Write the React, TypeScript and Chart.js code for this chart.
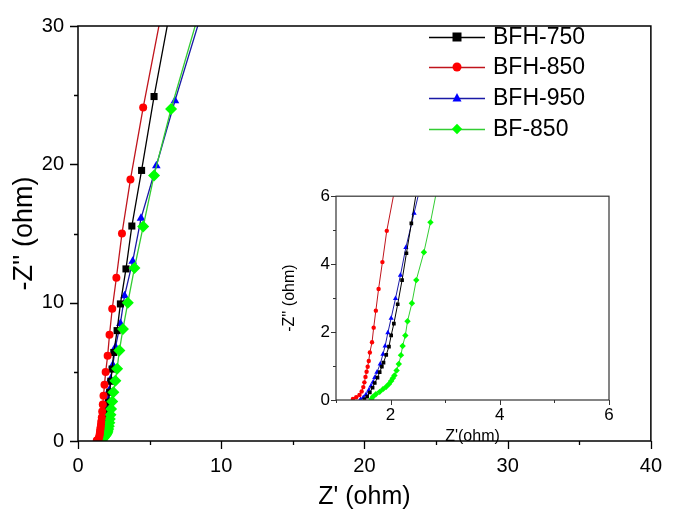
import React, { useEffect, useRef } from "react";
import { Chart, registerables } from "chart.js";

Chart.register(...registerables);

// ---- data ----
const seriesLabels = ["BFH-750", "BFH-850", "BFH-950", "BF-850"];
const lineColors = ["#000000", "#c0141c", "#1a1aa6", "#33cc33"];
const markerColors = ["#000000", "#ff0000", "#0000ff", "#00ff00"];
const markerStyles = ["rect", "circle", "triangle", "rectRot"];

const bfh750Re = [1.52, 1.57, 1.62, 1.67, 1.71, 1.76, 1.8, 1.84, 1.87, 1.92, 1.97, 2.01, 2.06, 2.13, 2.21, 2.29, 2.38, 2.5, 2.73, 2.96, 3.35, 3.76, 4.44, 5.31, 6.5];
const bfh750Im = [0.02, 0.1, 0.22, 0.36, 0.5, 0.66, 0.82, 0.98, 1.1, 1.33, 1.57, 1.9, 2.25, 2.82, 3.53, 4.32, 5.2, 6.4, 7.98, 9.91, 12.44, 15.54, 19.56, 24.9, 31.5];

const bfh850Re = [1.31, 1.37, 1.43, 1.47, 1.5, 1.52, 1.54, 1.56, 1.58, 1.6, 1.62, 1.66, 1.69, 1.73, 1.78, 1.85, 1.93, 2.07, 2.2, 2.39, 2.68, 3.07, 3.66, 4.55, 5.93];
const bfh850Im = [0.03, 0.08, 0.15, 0.25, 0.38, 0.52, 0.68, 0.83, 0.98, 1.15, 1.4, 1.7, 2.13, 2.63, 3.27, 4.06, 4.98, 6.16, 7.68, 9.56, 11.8, 15.0, 18.9, 24.1, 31.5];

const bfh950Re = [1.45, 1.5, 1.55, 1.6, 1.64, 1.68, 1.71, 1.75, 1.81, 1.86, 1.9, 1.95, 2.01, 2.09, 2.18, 2.28, 2.43, 2.62, 2.96, 3.25, 3.82, 4.4, 5.47, 6.77, 8.8];
const bfh950Im = [0.02, 0.07, 0.16, 0.29, 0.41, 0.53, 0.66, 0.82, 1.06, 1.35, 1.59, 1.98, 2.41, 2.99, 3.67, 4.49, 5.5, 6.8, 8.5, 10.5, 13.0, 16.1, 19.9, 24.6, 31.5];

const bf850Re = [1.65, 1.68, 1.73, 1.8, 1.86, 1.92, 1.97, 2.01, 2.04, 2.07, 2.11, 2.15, 2.19, 2.22, 2.27, 2.31, 2.39, 2.47, 2.61, 2.73, 2.89, 3.14, 3.48, 3.94, 4.55, 5.31, 6.5, 8.6];
const bf850Im = [0.03, 0.1, 0.17, 0.24, 0.32, 0.39, 0.47, 0.56, 0.64, 0.72, 0.87, 1.06, 1.32, 1.59, 1.9, 2.32, 2.85, 3.53, 4.35, 5.23, 6.54, 8.1, 10.0, 12.5, 15.5, 19.2, 24.0, 31.5];

const seriesRe = [bfh750Re, bfh850Re, bfh950Re, bf850Re];
const seriesIm = [bfh750Im, bfh850Im, bfh950Im, bf850Im];
const drawOrder = [2, 0, 3, 1];

const mainXMajor = [0, 10, 20, 30, 40];
const mainXMinor = [5, 15, 25, 35];
const mainYMajor = [0, 10, 20, 30];
const mainYMinor = [5, 15, 25];
const insetXMajor = [2, 4, 6];
const insetXMinor = [1, 3, 5];
const insetYMajor = [0, 2, 4, 6];
const insetYMinor = [1, 3, 5];

const FONT = "'Liberation Sans', Arial, sans-serif";

const frameTicksPlugin = {
  id: "frameTicks",
  afterDatasetsDraw(chart: any, _args: any, opts: any) {
    const { ctx, chartArea: a, scales } = chart;
    const sx = scales.x;
    const sy = scales.y;
    ctx.save();
    ctx.strokeStyle = opts.color || "#000";
    ctx.lineWidth = opts.lineWidth;
    ctx.strokeRect(a.left, a.top, a.right - a.left, a.bottom - a.top);
    ctx.beginPath();
    const tick = (vals: number[], len: number, horiz: boolean) => {
      for (const v of vals) {
        if (horiz) {
          const px = Math.round(sx.getPixelForValue(v)) + 0.5;
          ctx.moveTo(px, a.bottom);
          ctx.lineTo(px, a.bottom + len);
        } else {
          const py = Math.round(sy.getPixelForValue(v)) + 0.5;
          ctx.moveTo(a.left, py);
          ctx.lineTo(a.left - len, py);
        }
      }
    };
    tick(opts.xMajor, opts.majorLen, true);
    tick(opts.xMinor, opts.minorLen, true);
    tick(opts.yMajor, opts.majorLen, false);
    tick(opts.yMinor, opts.minorLen, false);
    ctx.lineWidth = opts.tickWidth;
    ctx.stroke();
    ctx.restore();
  },
};

function drawMarker(ctx: CanvasRenderingContext2D, style: string, x: number, y: number, r: number) {
  ctx.beginPath();
  if (style === "rect") {
    ctx.rect(x - r, y - r, 2 * r, 2 * r);
  } else if (style === "circle") {
    ctx.arc(x, y, r, 0, Math.PI * 2);
  } else if (style === "triangle") {
    ctx.moveTo(x, y - r * 1.1);
    ctx.lineTo(x + r, y + r * 0.75);
    ctx.lineTo(x - r, y + r * 0.75);
    ctx.closePath();
  } else {
    ctx.moveTo(x, y - r * 1.15);
    ctx.lineTo(x + r * 1.15, y);
    ctx.lineTo(x, y + r * 1.15);
    ctx.lineTo(x - r * 1.15, y);
    ctx.closePath();
  }
  ctx.fill();
}

const legendPlugin = {
  id: "lineLegend",
  afterDraw(chart: any) {
    const ctx = chart.ctx as CanvasRenderingContext2D;
    const x0 = 429;
    const x1 = 485;
    const xm = 457;
    const tx = 493;
    const rows = [37, 67, 98, 129];
    ctx.save();
    seriesLabels.forEach((lab, i) => {
      const y = rows[i];
      ctx.strokeStyle = lineColors[i];
      ctx.lineWidth = 1.5;
      ctx.beginPath();
      ctx.moveTo(x0, y + 0.5);
      ctx.lineTo(x1, y + 0.5);
      ctx.stroke();
      ctx.fillStyle = markerColors[i];
      drawMarker(ctx, markerStyles[i], xm, y, 4.5);
      ctx.fillStyle = "#000";
      ctx.font = `23px ${FONT}`;
      ctx.textBaseline = "middle";
      ctx.textAlign = "left";
      ctx.fillText(lab, tx, y + 1);
    });
    ctx.restore();
  },
};

function buildDatasets(radii: number[], lineWidth: number) {
  return seriesLabels.map((label, i) => ({
    label,
    data: seriesRe[i].map((x, k) => ({ x, y: seriesIm[i][k] })),
    borderColor: lineColors[i],
    backgroundColor: markerColors[i],
    pointBackgroundColor: markerColors[i],
    pointBorderColor: markerColors[i],
    pointBorderWidth: 0,
    pointStyle: markerStyles[i],
    pointRadius: radii[i],
    borderWidth: lineWidth,
    showLine: true,
    tension: 0,
    order: drawOrder[i],
  }));
}

export default function App() {
  const mainRef = useRef<HTMLCanvasElement | null>(null);
  const insetRef = useRef<HTMLCanvasElement | null>(null);

  useEffect(() => {
    document.body.style.margin = "0";
    const mainChart = new Chart(mainRef.current as HTMLCanvasElement, {
      type: "scatter",
      data: { datasets: buildDatasets([5, 4, 5, 6], 1.3) as any },
      plugins: [frameTicksPlugin, legendPlugin],
      options: {
        responsive: false,
        animation: false,
        layout: { padding: { top: 12, right: 13, left: 0, bottom: 0 } },
        plugins: {
          legend: { display: false },
          tooltip: { enabled: false },
          frameTicks: {
            lineWidth: 1.5,
            tickWidth: 1.3,
            majorLen: 8,
            minorLen: 4,
            xMajor: mainXMajor,
            xMinor: mainXMinor,
            yMajor: mainYMajor,
            yMinor: mainYMinor,
          },
        } as any,
        scales: {
          x: {
            type: "linear",
            min: 0,
            max: 40,
            grid: { display: false, drawTicks: false },
            border: { display: false },
            afterBuildTicks: (s: any) => {
              s.ticks = mainXMajor.map((v) => ({ value: v }));
            },
            afterFit: (s: any) => {
              s.height = 79;
            },
            ticks: { color: "#000", padding: 13, font: { family: FONT, size: 20 }, maxRotation: 0 },
            title: {
              display: true,
              text: "Z' (ohm)",
              color: "#000",
              font: { family: FONT, size: 25 },
              padding: { top: 0, bottom: 8 },
            },
          },
          y: {
            type: "linear",
            min: 0,
            max: 30,
            grid: { display: false, drawTicks: false },
            border: { display: false },
            afterBuildTicks: (s: any) => {
              s.ticks = mainYMajor.map((v) => ({ value: v }));
            },
            afterFit: (s: any) => {
              s.width = 78;
            },
            ticks: { color: "#000", padding: 14, font: { family: FONT, size: 20 } },
            title: {
              display: true,
              text: "-Z'' (ohm)",
              color: "#000",
              font: { family: FONT, size: 27 },
              padding: { top: 8, bottom: 0 },
            },
          },
        },
      } as any,
    });

    const insetChart = new Chart(insetRef.current as HTMLCanvasElement, {
      type: "scatter",
      data: { datasets: buildDatasets([2.6, 2.2, 3, 3.2], 1) as any },
      plugins: [frameTicksPlugin],
      options: {
        responsive: false,
        animation: false,
        layout: { padding: { top: 13, right: 11, left: 0, bottom: 0 } },
        plugins: {
          legend: { display: false },
          tooltip: { enabled: false },
          frameTicks: {
            lineWidth: 1.2,
            tickWidth: 1,
            color: "#333",
            majorLen: 5,
            minorLen: 3,
            xMajor: insetXMajor,
            xMinor: insetXMinor,
            yMajor: insetYMajor,
            yMinor: insetYMinor,
          },
        } as any,
        scales: {
          x: {
            type: "linear",
            min: 1,
            max: 6,
            grid: { display: false, drawTicks: false },
            border: { display: false },
            afterBuildTicks: (s: any) => {
              s.ticks = insetXMajor.map((v) => ({ value: v }));
            },
            afterFit: (s: any) => {
              s.height = 50;
            },
            ticks: { color: "#000", padding: 5, font: { family: FONT, size: 17 }, maxRotation: 0 },
            title: {
              display: true,
              text: "Z'(ohm)",
              color: "#000",
              font: { family: FONT, size: 16 },
              padding: { top: 0, bottom: 4 },
            },
          },
          y: {
            type: "linear",
            min: 0,
            max: 6,
            grid: { display: false, drawTicks: false },
            border: { display: false },
            afterBuildTicks: (s: any) => {
              s.ticks = insetYMajor.map((v) => ({ value: v }));
            },
            afterFit: (s: any) => {
              s.width = 66;
            },
            ticks: { color: "#000", padding: 6, font: { family: FONT, size: 17 } },
            title: {
              display: true,
              text: "-Z'' (ohm)",
              color: "#000",
              font: { family: FONT, size: 16 },
              padding: { top: 10, bottom: 0 },
            },
          },
        },
      } as any,
    });

    return () => {
      mainChart.destroy();
      insetChart.destroy();
    };
  }, []);

  return (
    <div style={{ position: "relative", width: 675, height: 520, background: "#fff", overflow: "hidden" }}>
      <canvas ref={mainRef} width={675} height={520} style={{ position: "absolute", left: 0, top: 0 }} />
      <canvas ref={insetRef} width={350} height={270} style={{ position: "absolute", left: 270, top: 180 }} />
    </div>
  );
}
